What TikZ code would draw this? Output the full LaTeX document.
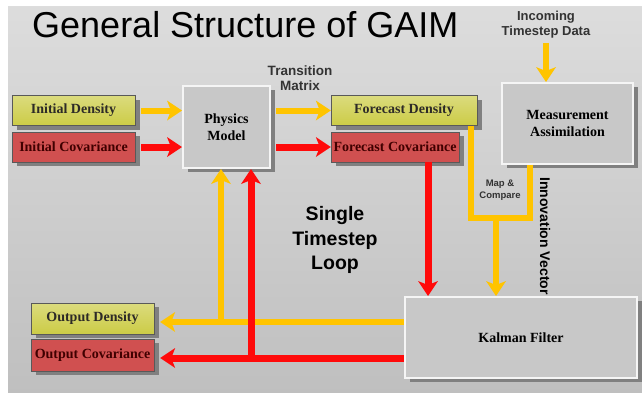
\documentclass[tikz,border=0pt]{standalone}
\usepackage{fontspec}
\setmainfont{Liberation Serif}
\setsansfont{Liberation Sans}
\usetikzlibrary{arrows.meta,shadows}

\definecolor{densfill}{RGB}{204,204,70}
\definecolor{covfill}{RGB}{208,80,80}
\definecolor{boxgray}{RGB}{200,200,200}
\definecolor{shadowgray}{RGB}{128,128,128}
\definecolor{flowyellow}{RGB}{255,196,0}
\definecolor{flowred}{RGB}{255,10,10}

\tikzset{
  boxshadow/.style={drop shadow={shadow xshift=5pt, shadow yshift=-4pt, fill=shadowgray, opacity=1}},
  databox/.style={draw=black!65, minimum width=123pt, minimum height=30pt, inner sep=1pt,
    boxshadow, font=\fontsize{14}{16}\selectfont\bfseries},
  densbox/.style={databox, top color=densfill!70!white, bottom color=densfill, text=black!90!olive},
  covbox/.style={databox, fill=covfill, text=black!75!red},
  procbox/.style={draw=white!92!gray, line width=2pt, fill=boxgray, boxshadow,
    align=center, font=\fontsize{14}{17}\selectfont\bfseries},
  label/.style={font=\sffamily\bfseries, align=center, text=black!80, inner sep=0pt},
  flowtip/.style={-{Stealth[length=15pt, width=20pt, inset=4pt, line width=0pt]}},
  yline/.style={draw=flowyellow, line width=6pt},
  rline/.style={draw=flowred, line width=7pt},
  yarrow/.style={yline, flowtip},
  rarrow/.style={rline, flowtip}
}

\begin{document}
\begin{tikzpicture}[x=1pt, y=-1pt]

    % Picture frame and background
    \useasboundingbox (0,0) rectangle (642,392);
    \fill[white] (0,0) rectangle (642,392);
    \fill[top color=gray!27, bottom color=gray!50] (8,6) rectangle (642,392);

    % Title
    \node[anchor=base west, inner sep=0pt, font=\sffamily\fontsize{36}{40}\selectfont] (title) at (32,37) {General Structure of GAIM};

    % Inputs on the left
    \node[densbox] (initdens) at (73.5,110.5) {Initial Density};
    \node[covbox] (initcov) at (73.5,147) {Initial Covariance};

    % Physics model block
    \node[procbox, minimum width=87pt, minimum height=82pt] (physics) at (226.5,127) {Physics\\Model};

    % Forecast outputs
    \node[densbox, minimum width=146pt] (fcdens) at (404,110.5) {Forecast Density};
    \node[covbox, minimum width=128pt] (fccov) at (395,147) {Forecast Covariance};

    % Measurement assimilation block
    \node[procbox, minimum width=131pt, minimum height=81pt] (meas) at (567.5,123.5) {Measurement\\Assimilation};

    % Kalman filter block
    \node[procbox, minimum width=232pt, minimum height=81pt] (kalman) at (521,337.5) {Kalman Filter};

    % Outputs on the lower left
    \node[densbox, minimum height=31pt] (outdens) at (92.5,318.5) {Output Density};
    \node[covbox, minimum height=32pt] (outcov) at (92.5,355) {Output Covariance};

    % Labels
    \node[label, font=\sffamily\bfseries\fontsize{13}{15}\selectfont] (incoming) at (546,25) {Incoming\\Timestep Data};
    \node[label, font=\sffamily\bfseries\fontsize{13.5}{15}\selectfont] (transition) at (300,78) {Transition\\Matrix};
    \node[label, text=black, font=\sffamily\bfseries\fontsize{19.5}{24.5}\selectfont] (loop) at (335,240) {Single\\Timestep\\Loop};
    \node[label, font=\sffamily\bfseries\fontsize{9.5}{12}\selectfont] (mapcmp) at (500,190) {Map \&\\Compare};
    \node[label, text=black, rotate=-90, font=\sffamily\bfseries\fontsize{14}{16}\selectfont] (innov) at (545,236) {Innovation Vector};

    % Tap points of the feedback loop
    \coordinate (join) at (496,218);
    \coordinate (ytap) at (221,322);
    \coordinate (rtap) at (251,358);

    % Into the physics model
    \draw[yarrow, shorten <=6pt] (initdens.east) -- (initdens.east -| physics.west);
    \draw[rarrow, shorten <=6pt] (initcov.east) -- (initcov.east -| physics.west);

    % Out of the physics model
    \draw[yarrow, shorten <=5pt] (physics.east |- fcdens.west) -- (fcdens.west);
    \draw[rarrow, shorten <=5pt] (physics.east |- fccov.west) -- (fccov.west);

    % Incoming data
    \draw[yarrow, shorten <=4pt] (incoming.south) -- (incoming.south |- meas.north);

    % Map & compare loop into the Kalman filter
    \draw[yline, line join=miter] ([xshift=67pt]fcdens.south) |- (join) -| ([xshift=-37.5pt]meas.south);
    \draw[yarrow] (join) -- (join |- kalman.north);
    \draw[rarrow] ([xshift=33pt]fccov.south) -- ([xshift=33pt]fccov.south |- kalman.north);

    % Kalman filter outputs and feedback
    \draw[yarrow, shorten >=6pt] (kalman.west |- ytap) -- (outdens.east |- ytap);
    \draw[yarrow] (ytap) -- (ytap |- physics.south);
    \draw[rarrow, shorten >=6pt] (kalman.west |- rtap) -- (outcov.east |- rtap);
    \draw[rarrow] (rtap) -- (rtap |- physics.south);

\end{tikzpicture}
\end{document}
